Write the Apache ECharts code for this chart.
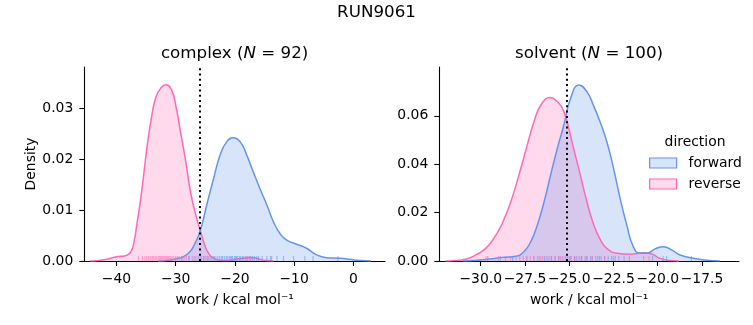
<!DOCTYPE html>
<html><head><meta charset="utf-8">
<script src="https://cdn.jsdelivr.net/npm/echarts@6/dist/echarts.min.js"></script>
<style>html,body{margin:0;padding:0;background:#fff}#c{width:753px;height:325px}</style>
</head><body><div id="c"></div>
<script>
// ---- data ----
const suptitle = 'RUN9061';
const panelNames = ['complex', 'solvent'];
const panelN = [92, 100];
const directions = ['forward', 'reverse'];
const dgLines = [-25.98, -25.14];

const complexXTicks = [-40, -30, -20, -10, 0];
const complexYTicks = [0, 0.01, 0.02, 0.03];
const solventXTicks = [-30, -27.5, -25, -22.5, -20, -17.5];
const solventYTicks = [0, 0.02, 0.04, 0.06];

const complexForwardKde = [[-33,0],[-31.4,0.0001],[-30,0.0004],[-28.6,0.0009],[-27.6,0.0018],[-26.9,0.0031],[-25.9,0.0058],[-24.76,0.011],[-23.6,0.0162],[-22.5,0.0208],[-21.4,0.0234],[-20.3,0.0242],[-19.1,0.0234],[-18.0,0.0208],[-16.9,0.0175],[-15.8,0.0143],[-14.6,0.011],[-13.5,0.0077],[-12.4,0.0054],[-11.25,0.0041],[-9.56,0.0033],[-7.9,0.0025],[-6.2,0.0012],[-4.5,0.00065],[-2.25,0.00052],[-0.56,0.00033],[1.1,0.0001],[3,0]];
const complexReverseKde = [[-44.5,0],[-43,0.0001],[-41.5,0.0004],[-40.5,0.0007],[-39.7,0.0009],[-38.6,0.001],[-37.6,0.0018],[-37.04,0.0038],[-36.5,0.0077],[-35.9,0.0123],[-35.35,0.0175],[-34.8,0.0228],[-34.2,0.0274],[-33.4,0.032],[-32.5,0.034],[-31.6,0.0346],[-30.7,0.0336],[-30.0,0.0306],[-29.2,0.0254],[-28.3,0.0195],[-27.5,0.0136],[-26.6,0.009],[-25.8,0.0058],[-25.0,0.0028],[-24.4,0.0014],[-23.8,0.0007],[-22.8,0.0002],[-21.5,0.0001],[-20.5,0.0002],[-19.5,0.0004],[-18.5,0.0006],[-17.5,0.0007],[-16.5,0.0006],[-15.7,0.0003],[-14.8,0.0001],[-13.5,0]];
const solventForwardKde = [[-31,0],[-30.2,0.0003],[-29.5,0.0008],[-28.78,0.0015],[-28.0,0.002],[-27.55,0.0039],[-27.17,0.008],[-26.8,0.0149],[-26.42,0.0245],[-26.05,0.0356],[-25.67,0.0466],[-25.3,0.0563],[-24.92,0.0673],[-24.45,0.0728],[-24.0,0.070],[-23.64,0.0645],[-23.26,0.0576],[-22.88,0.0494],[-22.5,0.0384],[-22.13,0.026],[-21.75,0.0149],[-21.38,0.0059],[-21.0,0.0032],[-20.62,0.0032],[-20.15,0.005],[-19.68,0.0059],[-19.2,0.0045],[-18.74,0.0025],[-17.99,0.0011],[-17.23,0.0003],[-16.5,0]];
const solventReverseKde = [[-32,0],[-31.6,0.0001],[-30.85,0.0007],[-30.28,0.0025],[-29.72,0.0052],[-29.25,0.0094],[-28.78,0.0156],[-28.3,0.0245],[-27.84,0.0356],[-27.37,0.048],[-26.99,0.0576],[-26.6,0.0645],[-26.08,0.0676],[-25.67,0.0659],[-25.3,0.0618],[-24.77,0.047],[-24.39,0.036],[-24.0,0.0245],[-23.64,0.0155],[-23.26,0.009],[-22.88,0.0052],[-22.3,0.0032],[-21.57,0.0028],[-20.8,0.0034],[-20.3,0.0028],[-19.87,0.0011],[-19.3,0.0002],[-18.8,0]];

const complexForwardRug = [-29.0,-27.8,-26.9,-26.2,-25.7,-25.3,-24.9,-24.6,-24.2,-23.9,-23.5,-23.2,-22.9,-22.6,-22.3,-22.1,-21.8,-21.5,-21.3,-21.0,-20.8,-20.6,-20.4,-20.1,-19.9,-19.7,-19.5,-19.2,-19.0,-18.7,-18.5,-18.2,-17.9,-17.6,-17.3,-17.0,-16.7,-16.3,-16.0,-15.4,-14.6,-14.0,-13.8,-12.9,-11.8,-10.1,-8.2,-6.8,-2.6];
const complexReverseRug = [-36.3,-35.6,-35.2,-34.9,-34.6,-34.3,-34.0,-33.8,-33.5,-33.3,-33.0,-32.8,-32.6,-32.4,-32.2,-32.0,-31.8,-31.6,-31.4,-31.2,-31.0,-30.8,-30.6,-30.3,-30.0,-29.7,-29.4,-29.0,-28.6,-28.2,-27.7,-27.2,-26.6,-25.9,-25.2,-24.5,-23.6,-18.0,-17.4];
const solventForwardRug = [-29.6,-28.9,-28.2,-27.4,-27.0,-26.7,-26.4,-26.2,-26.0,-25.8,-25.6,-25.4,-25.2,-25.0,-24.9,-24.7,-24.6,-24.4,-24.3,-24.1,-24.0,-23.8,-23.7,-23.5,-23.3,-23.2,-23.0,-22.8,-22.6,-22.4,-22.2,-21.9,-21.6,-20.3,-19.7,-19.5,-18.1];
const solventReverseRug = [-29.7,-29.0,-28.6,-28.3,-28.0,-27.8,-27.6,-27.4,-27.2,-27.0,-26.8,-26.6,-26.5,-26.3,-26.1,-26.0,-25.8,-25.6,-25.5,-25.3,-25.1,-24.9,-24.7,-24.5,-24.3,-24.0,-23.7,-23.4,-23.0,-22.5,-20.8,-20.5];

// ---- styling ----
const FONT = 'DejaVu Sans';
const BLUE = '#6495ED', PINK = '#FF69B4';
const BLUE_F = 'rgba(100,149,237,0.25)', PINK_F = 'rgba(255,105,180,0.25)';
const fmt = (d) => (v) => (v < 0 ? '\u2212' : '') + Math.abs(v).toFixed(d);

function xAxisCfg(idx, min, max, ticks, dec) {
  return {
    type: 'value', gridIndex: idx, min: min, max: max,
    axisLine: {show: true, onZero: false, lineStyle: {color: '#000', width: 1.1}},
    axisTick: {show: true, length: 5, lineStyle: {color: '#000', width: 1.1}, customValues: ticks},
    axisLabel: {color: '#000', fontFamily: FONT, fontSize: 13.9, margin: 11, customValues: ticks, formatter: fmt(dec)},
    splitLine: {show: false},
    name: 'work / kcal mol\u207B\u00B9', nameLocation: 'middle', nameGap: 32,
    nameTextStyle: {color: '#000', fontFamily: FONT, fontSize: 13.9}
  };
}
function yAxisCfg(idx, max, ticks, withName) {
  return {
    type: 'value', gridIndex: idx, min: 0, max: max,
    axisLine: {show: true, onZero: false, lineStyle: {color: '#000', width: 1.1}},
    axisTick: {show: true, length: 5, lineStyle: {color: '#000', width: 1.1}, customValues: ticks},
    axisLabel: {color: '#000', fontFamily: FONT, fontSize: 13.9, margin: 11, customValues: ticks, formatter: fmt(2)},
    splitLine: {show: false},
    name: withName ? 'Density' : '', nameLocation: 'middle', nameGap: 46,
    nameTextStyle: {color: '#000', fontFamily: FONT, fontSize: 13.9}
  };
}
function kde(name, idx, data, line, fill, z) {
  return {
    type: 'line', name: name, xAxisIndex: idx, yAxisIndex: idx, data: data,
    smooth: 0.5, showSymbol: false, symbol: 'none', z: z,
    lineStyle: {color: line, width: 1.5}, itemStyle: {color: line},
    areaStyle: {color: fill, opacity: 1}, silent: true
  };
}
function rug(name, idx, vals, color) {
  return {
    type: 'scatter', name: name, xAxisIndex: idx, yAxisIndex: idx,
    data: vals.map(v => [v, 0]), symbol: 'rect', symbolSize: [1.2, 5], symbolOffset: [0, -2.5],
    itemStyle: {color: color, opacity: 0.55}, z: 3, silent: true
  };
}
function vline(idx, x) {
  return {
    type: 'line', xAxisIndex: idx, yAxisIndex: idx, data: [], silent: true,
    markLine: {symbol: 'none', silent: true, label: {show: false},
      lineStyle: {color: '#000', width: 2, type: [2, 3.3]}, data: [{xAxis: x}], animation: false}, z: 5
  };
}
function panelTitle(i, cx) {
  return {type: 'text', x: cx, y: 54,
    style: {text: panelNames[i] + ' ({i|N} = ' + panelN[i] + ')', fontFamily: FONT, fontSize: 16.7, fill: '#000',
      align: 'center', verticalAlign: 'middle', rich: {i: {fontStyle: 'italic', fontFamily: FONT, fontSize: 16.7}}}};
}

const chart = echarts.init(document.getElementById('c'), null, {renderer: 'canvas'});
chart.setOption({
  animation: false,
  backgroundColor: '#fff',
  grid: [
    {left: 84.3, right: 753 - 385, top: 67, bottom: 64},
    {left: 439.3, right: 14, top: 67, bottom: 64}
  ],
  xAxis: [xAxisCfg(0, -45.44, 5.35, complexXTicks, 0), xAxisCfg(1, -32.34, -15.41, solventXTicks, 1)],
  yAxis: [yAxisCfg(0, 0.0381, complexYTicks, true), yAxisCfg(1, 0.0802, solventYTicks, false)],
  legend: {
    orient: 'vertical', left: 649, top: 156, padding: 0, icon: 'rect', itemWidth: 27, itemHeight: 10, itemGap: 7,
    textStyle: {fontFamily: FONT, fontSize: 13.9, color: '#000', lineHeight: 14, padding: [0, 0, 0, 7]},
    selectedMode: false,
    data: [
      {name: directions[0], itemStyle: {color: BLUE_F, borderColor: BLUE, borderWidth: 1.2}},
      {name: directions[1], itemStyle: {color: PINK_F, borderColor: PINK, borderWidth: 1.2}}
    ]
  },
  graphic: [
    {type: 'text', x: 376.5, y: 13, style: {text: suptitle, fontFamily: FONT, fontSize: 16.7, fill: '#000', align: 'center', verticalAlign: 'middle'}},
    panelTitle(0, 234.6),
    panelTitle(1, 589),
    {type: 'text', x: 695, y: 142, style: {text: 'direction', fontFamily: FONT, fontSize: 13.9, fill: '#000', align: 'center', verticalAlign: 'middle'}}
  ],
  series: [
    kde(directions[1], 0, complexReverseKde, PINK, PINK_F, 2),
    kde(directions[0], 0, complexForwardKde, BLUE, BLUE_F, 2),
    rug(directions[0], 0, complexForwardRug, BLUE),
    rug(directions[1], 0, complexReverseRug, PINK),
    vline(0, dgLines[0]),
    kde(directions[1], 1, solventReverseKde, PINK, PINK_F, 2),
    kde(directions[0], 1, solventForwardKde, BLUE, BLUE_F, 2),
    rug(directions[0], 1, solventForwardRug, BLUE),
    rug(directions[1], 1, solventReverseRug, PINK),
    vline(1, dgLines[1])
  ]
});
</script></body></html>
